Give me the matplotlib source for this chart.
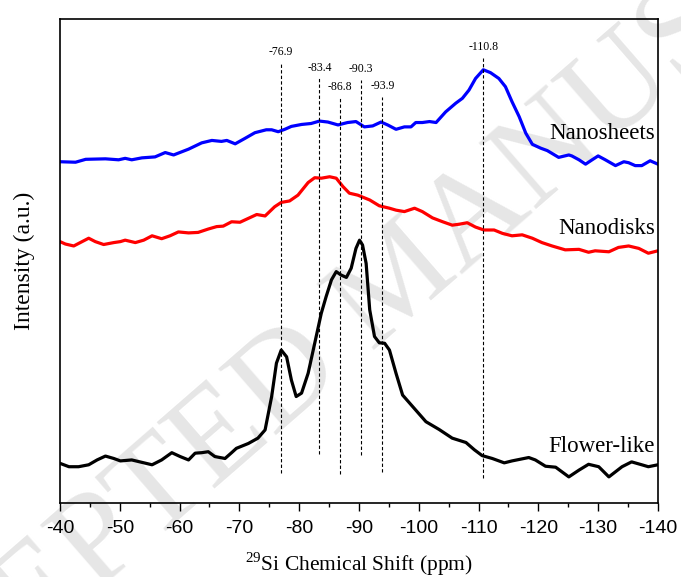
import numpy as np
import matplotlib
matplotlib.use("Agg")
import matplotlib.pyplot as plt
from matplotlib.ticker import MultipleLocator

plt.rcParams["axes.unicode_minus"] = False
plt.rcParams["mathtext.fontset"] = "custom"
plt.rcParams["mathtext.rm"] = "Liberation Serif"

# Espectros de RMN 29Si (intensidade em u.a.)
ppm_sheets = [-40.0, -42.6, -44.3, -47.6, -49.8, -50.9, -52.0, -53.7, -55.9, -57.6, -59.0, -61.5,
              -63.7, -65.4, -67.0, -67.9, -69.3, -70.9, -72.6, -74.5, -75.4, -76.5, -77.6, -78.7,
              -80.4, -82.0, -83.4, -84.8, -86.5, -88.1, -89.5, -90.9, -92.3, -93.7, -94.8, -96.2,
              -97.6, -98.7, -99.5, -100.6, -101.8, -102.9, -104.5, -106.2, -107.3, -108.4, -109.5,
              -110.8, -112.0, -113.4, -114.5, -115.6, -116.8, -117.9, -119.0, -120.4, -121.5,
              -123.4, -125.1, -125.6, -126.8, -127.9, -129.0, -130.0, -131.2, -132.9, -134.3,
              -135.1, -136.2, -137.3, -138.7, -140.0]
int_sheets = [70.5, 70.4, 71.0, 71.1, 70.9, 71.2, 70.9, 71.3, 71.5, 72.4, 71.9, 73.1,
              74.4, 74.9, 74.7, 74.9, 74.2, 75.3, 76.5, 77.1, 77.1, 76.7, 77.2, 77.8,
              78.2, 78.4, 78.9, 78.7, 78.1, 78.6, 78.8, 77.7, 77.9, 78.7, 78.1, 77.2,
              77.7, 77.7, 78.6, 78.6, 78.8, 78.6, 80.8, 82.6, 83.6, 85.3, 87.7,
              89.5, 88.9, 87.7, 86.0, 82.9, 79.8, 76.4, 74.1, 73.3, 72.8,
              71.4, 71.9, 71.7, 70.9, 70.0, 70.9, 71.7, 70.9, 69.7, 70.5,
              70.3, 69.7, 69.7, 70.7, 70.0]

ppm_disks = [-40.0, -40.9, -42.3, -43.7, -44.8, -45.9, -47.3, -49.0, -50.1, -50.9, -52.6, -54.0,
             -55.4, -57.0, -58.4, -59.8, -61.5, -63.1, -64.8, -66.2, -67.3, -68.7, -70.1, -71.5,
             -72.9, -74.3, -75.9, -77.0, -78.4, -79.8, -81.5, -82.6, -83.7, -85.1, -86.2, -87.3,
             -88.4, -89.8, -91.8, -93.4, -95.1, -96.2, -97.6, -99.3, -100.6, -102.3, -104.0,
             -105.6, -106.8, -108.1, -109.5, -110.9, -112.6, -114.0, -115.6, -117.3, -119.0,
             -120.6, -122.3, -124.5, -126.8, -128.4, -129.5, -131.8, -133.4, -135.1, -136.8,
             -138.4, -140.0]
int_disks = [54.0, 53.5, 53.1, 54.0, 54.7, 54.0, 53.4, 53.8, 54.0, 54.3, 53.8, 54.3,
             55.2, 54.6, 55.2, 56.0, 55.8, 55.9, 56.6, 57.1, 57.2, 58.1, 58.0, 58.8,
             59.6, 59.3, 61.2, 62.1, 62.4, 63.6, 66.2, 67.2, 67.1, 67.4, 67.1, 65.4,
             64.0, 63.6, 62.6, 61.4, 60.9, 60.5, 60.2, 60.9, 60.2, 58.9, 58.1,
             57.4, 57.6, 57.9, 57.0, 56.4, 56.4, 55.7, 55.2, 55.4, 54.7,
             53.8, 53.1, 52.3, 52.4, 51.8, 52.1, 51.9, 52.8, 53.1, 52.6,
             51.6, 52.1]

ppm_flower = [-40.0, -41.5, -43.1, -44.8, -46.2, -47.6, -49.0, -50.1, -52.0, -53.7, -55.4, -57.0,
              -58.7, -60.1, -61.5, -62.6, -63.7, -64.8, -65.9, -67.6, -68.7, -69.5, -71.5, -73.1,
              -74.3, -75.4, -76.2, -77.0, -77.9, -78.7, -79.5, -80.4, -81.5, -82.6, -83.7, -84.5,
              -85.4, -86.2, -87.0, -87.9, -88.7, -89.5, -90.1, -90.6, -91.2, -91.8, -92.6, -93.4,
              -94.3, -95.1, -96.2, -97.3, -99.0, -101.2, -103.4, -105.6, -107.9, -109.3, -110.6,
              -112.3, -114.3, -115.6, -116.8, -118.4, -119.5, -121.2, -122.9, -125.1, -126.8,
              -128.4, -130.1, -131.8, -134.0, -135.6, -137.3, -138.4, -140.0]
int_flower = [8.2, 7.5, 7.5, 7.9, 8.9, 9.7, 9.2, 8.7, 8.9, 8.4, 7.9, 8.9,
              10.4, 9.6, 8.9, 10.3, 10.4, 10.6, 9.6, 9.2, 10.4, 11.3, 12.3, 13.4,
              15.1, 22.0, 28.9, 31.6, 30.2, 25.4, 22.0, 22.7, 26.8, 33.0, 39.2, 42.6,
              46.1, 47.8, 47.1, 46.6, 48.5, 52.6, 54.3, 53.3, 49.5, 39.9, 34.4, 33.1,
              33.0, 31.6, 26.8, 22.3, 19.9, 16.8, 15.2, 13.4, 12.5, 11.0, 9.8,
              9.2, 8.3, 8.7, 9.0, 9.4, 8.9, 7.6, 7.4, 5.4, 6.8,
              8.0, 7.5, 5.4, 7.5, 8.5, 7.9, 7.5, 7.9]

# Linhas de referência dos picos (posição, topo e base da linha)
peak_pos = [-76.9, -83.4, -86.8, -90.3, -93.9, -110.8]
peak_labels = ["-76.9", "-83.4", "-86.8", "-90.3", "-93.9", "-110.8"]
peak_top = [90.9, 87.7, 83.6, 87.4, 83.9, 91.9]
peak_bottom = [6.1, 10.1, 6.0, 9.9, 6.5, 5.2]

curve_names = ["Nanosheets", "Nanodisks", "Flower-like"]
name_y = [76.4, 56.8, 11.6]

fig = plt.figure(figsize=(6.81, 5.77), dpi=100)

# marca d'água
fig.text(0.59, 0.51, "ACCEPTED MANUSCRIPT", fontsize=96, color="#e6e6e6",
         family="Liberation Serif", rotation=41, ha="center", va="center", zorder=-1)

ax = fig.add_axes([0.0881, 0.1282, 0.878, 0.839])
ax.patch.set_facecolor("none")

ax.plot(ppm_sheets, int_sheets, color="#0000ff", lw=2.3)
ax.plot(ppm_disks, int_disks, color="#ff0000", lw=2.3)
ax.plot(ppm_flower, int_flower, color="black", lw=2.3)

for x, lab, top, bot in zip(peak_pos, peak_labels, peak_top, peak_bottom):
    ax.plot([x, x], [bot, top], color="black", lw=0.8, ls=(0, (3, 2)))
    ax.text(x, top + 1.0, lab, fontsize=8.5, family="Liberation Serif",
            ha="center", va="bottom")

for nome, y in zip(curve_names, name_y):
    ax.text(-139.5, y, nome, fontsize=16.5, family="Liberation Serif",
            ha="right", va="center")

ax.set_xlim(-40, -140)
ax.set_ylim(0, 100)
ax.set_yticks([])
ax.xaxis.set_major_locator(MultipleLocator(10))
ax.xaxis.set_minor_locator(MultipleLocator(5))
ax.tick_params(axis="x", which="major", direction="out", length=6, width=1,
               labelsize=14, pad=6)
ax.tick_params(axis="x", which="minor", direction="out", length=3, width=1)
for lab in ax.get_xticklabels():
    lab.set_family("Liberation Sans")
for s in ax.spines.values():
    s.set_linewidth(1.2)

ax.set_xlabel(r"$^{\mathrm{29}}$Si Chemical Shift (ppm)", fontsize=15.5,
              family="Liberation Serif", labelpad=10)
ax.set_ylabel("Intensity (a.u.)", fontsize=17, family="Liberation Serif", labelpad=18)

fig.savefig("out.png", dpi=100)
